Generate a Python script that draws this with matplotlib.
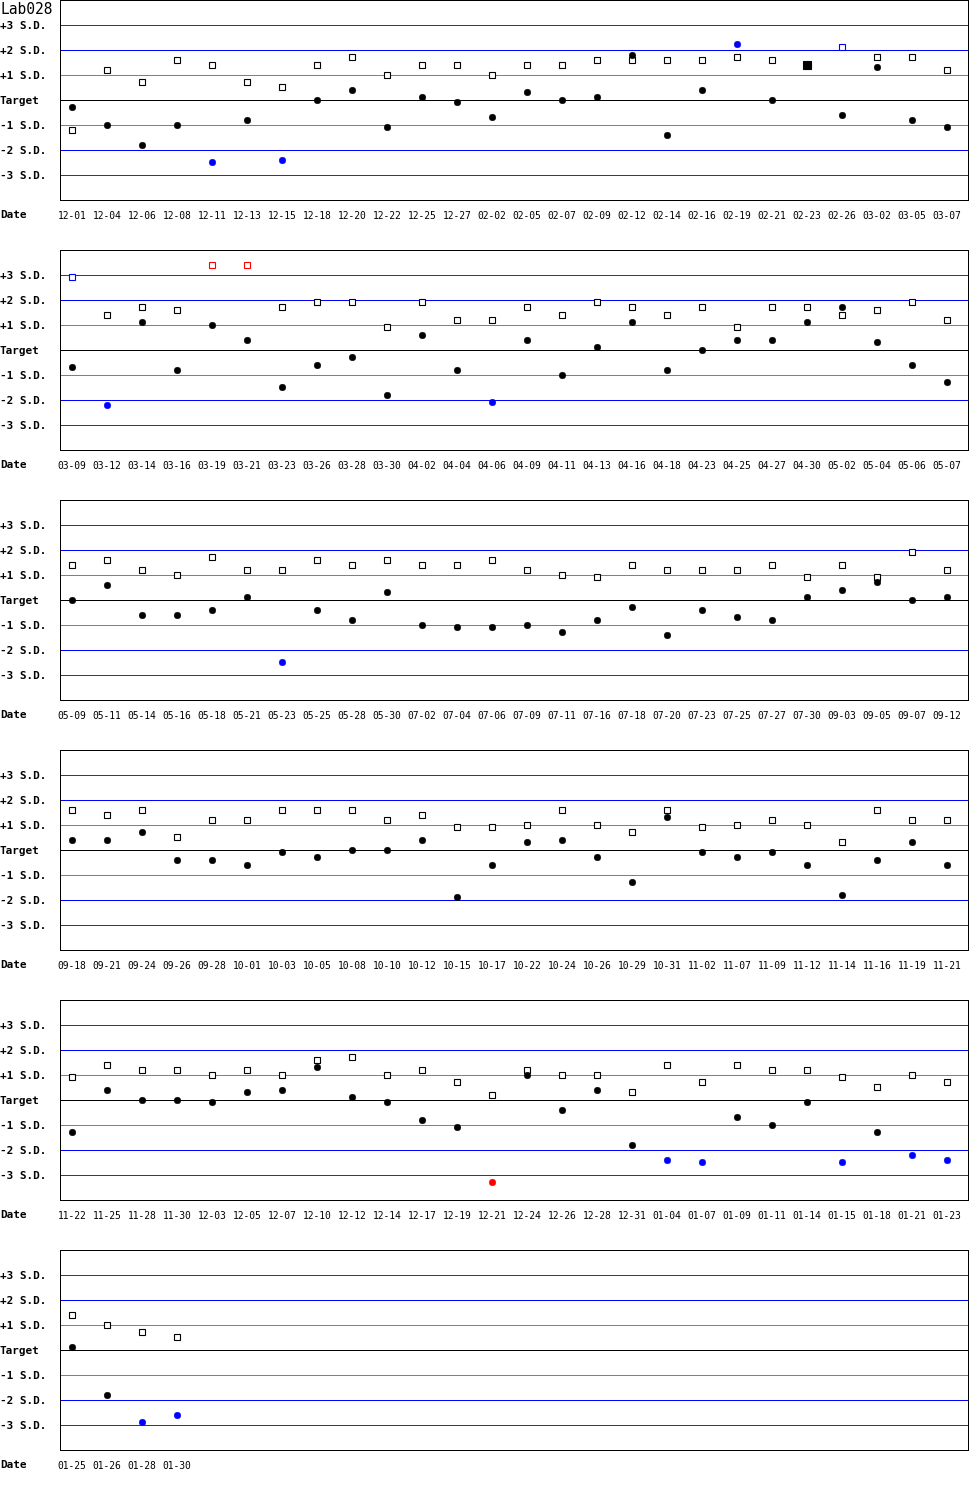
import numpy as np
import matplotlib
matplotlib.use('Agg')
import matplotlib.pyplot as plt

# Levey-Jennings chart, Lab028: values in S.D. units from target
dates = [
    '12-01', '12-04', '12-06', '12-08', '12-11', '12-13', '12-15', '12-18', '12-20', '12-22', '12-25', '12-27', '02-02',
    '02-05', '02-07', '02-09', '02-12', '02-14', '02-16', '02-19', '02-21', '02-23', '02-26', '03-02', '03-05', '03-07',
    '03-09', '03-12', '03-14', '03-16', '03-19', '03-21', '03-23', '03-26', '03-28', '03-30', '04-02', '04-04', '04-06',
    '04-09', '04-11', '04-13', '04-16', '04-18', '04-23', '04-25', '04-27', '04-30', '05-02', '05-04', '05-06', '05-07',
    '05-09', '05-11', '05-14', '05-16', '05-18', '05-21', '05-23', '05-25', '05-28', '05-30', '07-02', '07-04', '07-06',
    '07-09', '07-11', '07-16', '07-18', '07-20', '07-23', '07-25', '07-27', '07-30', '09-03', '09-05', '09-07', '09-12',
    '09-18', '09-21', '09-24', '09-26', '09-28', '10-01', '10-03', '10-05', '10-08', '10-10', '10-12', '10-15', '10-17',
    '10-22', '10-24', '10-26', '10-29', '10-31', '11-02', '11-07', '11-09', '11-12', '11-14', '11-16', '11-19', '11-21',
    '11-22', '11-25', '11-28', '11-30', '12-03', '12-05', '12-07', '12-10', '12-12', '12-14', '12-17', '12-19', '12-21',
    '12-24', '12-26', '12-28', '12-31', '01-04', '01-07', '01-09', '01-11', '01-14', '01-15', '01-18', '01-21', '01-23',
    '01-25', '01-26', '01-28', '01-30',
]

nan = np.nan
circle_sd = [
    -0.28, -1.0, -1.8, -1.0, -2.48, -0.8, -2.4, 0.0, 0.4, -1.08, 0.12, -0.08, -0.68,
    0.32, 0.0, 0.12, 1.8, -1.4, 0.4, 2.24, 0.0, nan, -0.6, 1.32, -0.8, -1.08,
    -0.68, -2.2, 1.12, -0.8, 1.0, 0.4, -1.48, -0.6, -0.28, -1.8, 0.6, -0.8, -2.08,
    0.4, -1.0, 0.12, 1.12, -0.8, 0.0, 0.4, 0.4, 1.12, 1.72, 0.32, -0.6, -1.28,
    0.0, 0.6, -0.6, -0.6, -0.4, 0.12, -2.48, -0.4, -0.8, 0.32, -1.0, -1.08, -1.08,
    -1.0, -1.28, -0.8, -0.28, -1.4, -0.4, -0.68, -0.8, 0.12, 0.4, 0.72, 0.0, 0.12,
    0.4, 0.4, 0.72, -0.4, -0.4, -0.6, -0.08, -0.28, 0.0, 0.0, 0.4, -1.88, -0.6,
    0.32, 0.4, -0.28, -1.28, 1.32, -0.08, -0.28, -0.08, -0.6, -1.8, -0.4, 0.32, -0.6,
    -1.28, 0.4, 0.0, 0.0, -0.08, 0.32, 0.4, 1.32, 0.12, -0.08, -0.8, -1.08, -3.28,
    1.0, -0.4, 0.4, -1.8, -2.4, -2.48, -0.68, -1.0, -0.08, -2.48, -1.28, -2.2, -2.4,
    0.12, -1.8, -2.88, -2.6,
]

square_sd = [
    -1.2, 1.2, 0.72, 1.6, 1.4, 0.72, 0.52, 1.4, 1.72, 1.0, 1.4, 1.4, 1.0,
    1.4, 1.4, 1.6, 1.6, 1.6, 1.6, 1.72, 1.6, 1.4, 2.12, 1.72, 1.72, 1.2,
    2.92, 1.4, 1.72, 1.6, 3.4, 3.4, 1.72, 1.92, 1.92, 0.92, 1.92, 1.2, 1.2,
    1.72, 1.4, 1.92, 1.72, 1.4, 1.72, 0.92, 1.72, 1.72, 1.4, 1.6, 1.92, 1.2,
    1.4, 1.6, 1.2, 1.0, 1.72, 1.2, 1.2, 1.6, 1.4, 1.6, 1.4, 1.4, 1.6,
    1.2, 1.0, 0.92, 1.4, 1.2, 1.2, 1.2, 1.4, 0.92, 1.4, 0.92, 1.92, 1.2,
    1.6, 1.4, 1.6, 0.52, 1.2, 1.2, 1.6, 1.6, 1.6, 1.2, 1.4, 0.92, 0.92,
    1.0, 1.6, 1.0, 0.72, 1.6, 0.92, 1.0, 1.2, 1.0, 0.32, 1.6, 1.2, 1.2,
    0.92, 1.4, 1.2, 1.2, 1.0, 1.2, 1.0, 1.6, 1.72, 1.0, 1.2, 0.72, 0.2,
    1.2, 1.0, 1.0, 0.32, 1.4, 0.72, 1.4, 1.2, 1.2, 0.92, 0.52, 1.0, 0.72,
    1.4, 1.0, 0.72, 0.52,
]

filled_square = ['02-23']

sd_levels = [3, 2, 1, 0, -1, -2, -3]
sd_labels = ['+3 S.D.', '+2 S.D.', '+1 S.D.', 'Target', '-1 S.D.', '-2 S.D.', '-3 S.D.']
per_row = 26

mono = 'DejaVu Sans Mono'
W, H = 970, 1500
line_col = {3: '#cc0000', 2: '#0000ff', 1: '#808080', 0: 'black'}


def colour(v):
    if abs(v) > 3:
        return '#ff0000'
    if abs(v) > 2:
        return '#0000ff'
    return 'black'


fig = plt.figure(figsize=(9.7, 15), dpi=100)
fig.text(0, 1 - 9 / H, 'Lab028', fontsize=10.5, family=mono, va='center', ha='left')

n_rows = int(np.ceil(len(dates) / per_row))
for k in range(n_rows):
    d = dates[k * per_row:(k + 1) * per_row]
    c = circle_sd[k * per_row:(k + 1) * per_row]
    s = square_sd[k * per_row:(k + 1) * per_row]
    x = np.arange(len(d))

    ax = fig.add_axes([60 / W, 1 - (250 * k + 200) / H, 908 / W, 200 / H])
    for lv in sd_levels:
        ax.axhline(lv, color=line_col[abs(lv)], lw=0.72, antialiased=False, zorder=1)

    for xi, di, ci, si in zip(x, d, c, s):
        if di in filled_square:
            ax.plot(xi, si, 's', ms=5.4, mfc=colour(si), mec=colour(si), mew=0.8, zorder=3)
        else:
            ax.plot(xi, si, 's', ms=4.8, mfc='white', mec=colour(si), mew=0.8, zorder=3)
        if not np.isnan(ci):
            ax.plot(xi, ci, 'o', ms=4.8, mfc=colour(ci), mec=colour(ci), mew=0.3, zorder=4)

    ax.set_xlim(-12 / 35, 896 / 35)
    ax.set_ylim(-4, 4)
    ax.set_xticks(x)
    ax.set_xticklabels(d, fontsize=6.9, family=mono)
    ax.set_yticks(sd_levels)
    ax.set_yticklabels(sd_labels, fontsize=7.9, family=mono, fontweight='bold', ha='left')
    ax.tick_params(axis='x', length=0, pad=8)
    ax.tick_params(axis='y', length=0, pad=43.2)
    for sp in ax.spines.values():
        sp.set_linewidth(0.72)
        sp.set_color('black')
        sp.set_antialiased(False)

    fig.text(0, 1 - (250 * k + 215) / H, 'Date', fontsize=7.9, family=mono,
             fontweight='bold', va='center', ha='left')

fig.savefig('out.png', dpi=100, facecolor='white')
